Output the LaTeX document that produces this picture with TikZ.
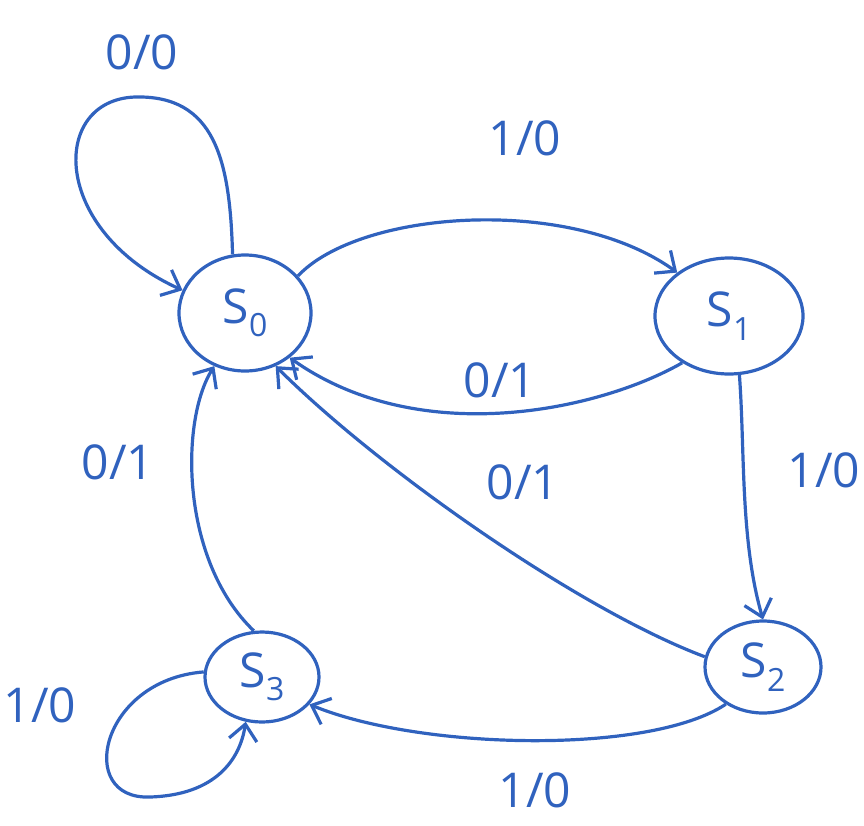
\documentclass[tikz,border=0pt]{standalone}
\usepackage{fontspec}
\setmainfont{Open Sans}
\usetikzlibrary{shapes.geometric,arrows.meta}
\definecolor{ink}{RGB}{48,98,190}
\tikzset{
  st/.style={draw=ink,ellipse,line width=3.2pt,inner sep=0pt,text=ink,font=\fontsize{48}{48}\selectfont},
  arr/.style={draw=ink,line width=3.2pt,-{Straight Barb[length=16pt,width=28pt,line width=3.2pt]}},
  lab/.style={text=ink,font=\fontsize{48}{48}\selectfont,inner sep=0pt}
}
\newcommand{\stname}[1]{S\raisebox{-0.28em}{\fontsize{32}{32}\selectfont #1}}
\begin{document}
\begin{tikzpicture}[x=1pt,y=-1pt]
\useasboundingbox (0,0) rectangle (864,825);
\node[st,minimum width=132pt,minimum height=116pt] (s0) at (245,313) {\stname{0}};
\node[st,minimum width=148pt,minimum height=116pt] (s1) at (729,316) {\stname{1}};
\node[st,minimum width=116pt,minimum height=92pt] (s2) at (763,667) {\stname{2}};
\node[st,minimum width=114pt,minimum height=90pt] (s3) at (262,677) {\stname{3}};
% self loop s0
\draw[arr] (s0.102) .. controls (230,160) and (215,95) .. (135,97) .. controls (50,100) and (50,230) .. (s0.160);
% s0 -> s1
\draw[arr] (s0.35) .. controls (360,210) and (570,195) .. (s1.140);
% s1 -> s0
\draw[arr] (s1.-135) .. controls (600,410) and (420,450) .. (s0.-45);
% s1 -> s2
\draw[arr] (s1.-80) .. controls (745,450) and (740,540) .. (s2.90);
% s2 -> s0
\draw[arr] (s2.170) .. controls (580,610) and (380,470) .. (s0.-60);
% s2 -> s3
\draw[arr] (s2.-135) .. controls (650,755) and (420,750) .. (s3.-30);
% s3 -> s0
\draw[arr] (s3.100) .. controls (180,560) and (180,420) .. (s0.-120);
% self loop s3
\draw[arr] (s3.175) .. controls (100,680) and (75,800) .. (150,797) .. controls (215,795) and (240,760) .. (s3.-110);
% labels
\node[lab] (l1) at (142,52) {0/0};
\node[lab] (l2) at (525,138) {1/0};
\node[lab] (l3) at (500,380) {0/1};
\node[lab] (l4) at (824,470) {1/0};
\node[lab] (l5) at (523,482) {0/1};
\node[lab] (l6) at (118,462) {0/1};
\node[lab] (l7) at (40,705) {1/0};
\node[lab] (l8) at (535,790) {1/0};
\end{tikzpicture}
\end{document}
